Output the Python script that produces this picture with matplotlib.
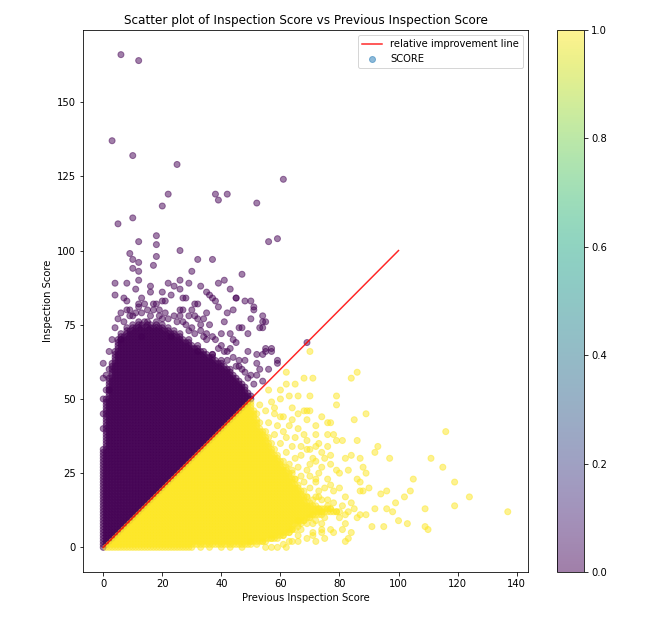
import matplotlib
matplotlib.use("Agg")
import matplotlib.pyplot as plt
from matplotlib.lines import Line2D

# scores are integers, so the dense parts of the cloud are every score pair
# inside an envelope

# top of the solid purple block (SCORE 0) for previous score 0..50
purple_top = [33, 50, 57, 62, 66, 70, 72, 71, 74, 73, 75, 74, 76, 75, 74, 76, 75,
              74, 76, 74, 75, 73, 74, 72, 73, 71, 72, 70, 69, 70, 68, 67, 68, 66,
              66, 65, 64, 65, 63, 62, 63, 61, 60, 60, 58, 57, 56, 55, 54, 52, 51]

# right edge of the solid yellow block (SCORE 1) for inspection score 0..49
yellow_right = [30, 49, 55, 58, 61, 63, 65, 64, 67, 68, 70, 74, 79, 77, 72, 69, 68,
                69, 66, 67, 65, 66, 64, 65, 63, 64, 62, 62, 60, 61, 59, 59, 57, 58,
                56, 57, 55, 56, 54, 55, 53, 52, 53, 52, 51, 52, 51, 50, 50, 50]

# single purple points outside the block (previous score, inspection score)
purple_points = [
    (6, 166), (12, 164), (3, 137), (10, 132), (25, 129), (61, 124), (22, 119),
    (38, 119), (42, 119), (39, 117), (52, 116), (20, 115), (10, 111), (5, 109),
    (18, 105), (12, 103), (18, 102), (56, 103), (59, 104), (26, 100), (9, 99),
    (18, 98), (32, 97), (37, 97), (10, 97), (12, 96), (17, 95), (10, 94), (12, 93),
    (30, 93), (47, 92), (41, 90), (39, 89), (26, 90), (4, 89), (8, 89), (12, 90),
    (16, 88), (11, 87), (4, 85), (35, 86), (45, 84), (48, 83), (50, 83), (51, 80),
    (54, 78), (55, 76), (53, 74), (47, 74), (41, 76), (2, 66), (0, 62), (55, 66),
    (57, 66), (59, 62), (69, 69), (54, 74), (55, 67), (57, 67), (54, 65), (59, 63),
    (8, 83), (12, 81), (9, 78), (15, 80), (18, 82), (21, 83), (23, 85), (27, 84),
    (32, 82), (37, 84), (39, 81), (31, 78), (34, 77), (27, 80), (54, 76), (45, 84),
    (51, 81), (43, 72), (40, 68), (45, 69), (37, 65), (42, 66), (48, 63), (46, 63),
    (52, 65), (56, 60), (52, 58), (49, 57), (54, 56), (2, 53), (6, 70), (20, 86),
    (26, 87), (28, 84), (12, 82), (20, 83), (26, 80), (31, 82), (38, 83), (36, 85),
    (32, 77), (27, 76), (19, 80), (17, 82), (8, 80), (7, 84), (13, 71), (23, 71),
    (29, 73), (35, 72), (32, 66), (49, 66), (0, 40), (0, 45), (0, 50), (0, 57),
    (1, 53), (1, 58), (2, 60), (3, 70), (4, 74), (5, 77), (6, 79), (7, 76),
    (9, 80), (10, 78), (11, 79), (13, 79), (14, 82), (16, 78), (17, 80), (19, 78),
    (21, 79), (22, 77), (24, 78), (25, 76), (26, 78), (28, 75), (29, 78), (30, 74),
    (31, 72), (33, 73), (34, 71), (35, 70), (36, 75), (38, 70), (39, 67), (40, 72),
    (41, 66), (43, 67), (44, 64), (46, 61), (47, 60), (48, 59), (50, 58), (51, 55),
    (53, 60), (52, 62), (44, 70), (46, 74), (49, 72), (50, 77), (42, 79), (44, 80),
    (35, 79), (30, 80), (13, 84), (16, 86), (24, 88), (22, 89), (29, 89), (33, 88),
    (43, 87), (14, 76), (20, 77), (33, 75), (37, 71), (42, 63), (45, 61)]

# single yellow points outside the block
yellow_points = [
    (70, 66), (86, 59), (84, 57), (68, 57), (71, 57), (62, 59), (62, 55), (63, 51),
    (66, 51), (70, 51), (79, 51), (79, 48), (89, 45), (85, 43), (77, 42), (116, 39),
    (86, 36), (81, 36), (93, 34), (92, 32), (97, 30), (111, 30), (115, 27), (87, 30),
    (83, 26), (88, 27), (89, 25), (105, 23), (119, 22), (90, 20), (87, 19), (96, 19),
    (94, 18), (104, 19), (102, 17), (124, 17), (99, 15), (119, 14), (109, 13),
    (137, 12), (96, 13), (92, 13), (98, 12), (100, 9), (103, 8), (109, 7), (110, 6),
    (95, 7), (91, 7), (89, 11), (87, 11), (85, 13), (84, 5), (82, 2), (83, 3),
    (78, 5), (81, 6), (82, 8), (83, 12), (69, 46), (60, 44), (68, 46), (76, 42),
    (66, 40), (72, 38), (76, 38), (79, 36), (69, 33), (73, 35), (77, 31), (79, 26),
    (72, 23), (68, 19), (78, 19), (73, 17), (76, 16), (79, 12), (69, 8), (74, 6),
    (71, 4), (77, 6), (64, 2), (66, 2), (55, 0), (57, 0), (50, 2), (60, 50),
    (64, 47), (58, 45), (70, 46), (61, 44), (69, 43), (61, 39), (78, 38), (69, 36),
    (76, 34), (74, 32), (70, 33), (67, 31), (82, 30), (84, 31), (77, 28), (74, 27),
    (80, 25), (86, 23), (70, 24), (72, 22), (76, 23), (77, 21), (87, 22), (88, 19),
    (73, 19), (71, 16), (74, 16), (80, 10), (71, 5), (74, 5), (71, 8), (74, 8),
    (66, 4), (63, 2), (66, 9), (33, 0), (36, 0), (40, 0), (43, 0), (47, 0),
    (50, 1), (52, 1), (54, 2), (57, 3), (59, 3), (61, 4), (63, 5), (64, 6),
    (66, 7), (67, 6), (68, 9), (70, 10), (71, 11), (72, 9), (73, 13), (75, 10),
    (76, 14), (78, 15), (70, 15), (72, 17), (69, 17), (67, 18), (70, 20), (66, 20),
    (68, 22), (65, 23), (67, 24), (69, 26), (64, 26), (66, 27), (63, 28), (70, 28),
    (65, 30), (62, 32), (64, 34), (67, 34), (60, 35), (62, 37), (65, 37), (58, 38),
    (59, 41), (63, 41), (56, 42), (58, 47), (55, 46), (57, 49), (53, 48), (56, 53),
    (60, 53), (65, 55), (66, 45), (72, 41), (74, 44), (75, 30), (72, 29), (80, 20),
    (82, 17), (81, 14), (84, 15), (86, 10), (75, 3), (72, 2), (69, 3), (61, 1),
    (59, 0), (62, 0), (80, 12), (82, 11), (77, 13), (73, 25), (71, 30), (75, 20),
    (74, 12), (68, 38), (64, 43), (72, 34)]

line_x = [0, 100]
line_y = [0, 100]

# build the point list: SCORE 0 = not improved, 1 = improved
prev, score, improved = [], [], []
for x, top in enumerate(purple_top):
    for y in range(x, top + 1):
        prev.append(x)
        score.append(y)
        improved.append(0)
for x, y in purple_points:
    prev.append(x)
    score.append(y)
    improved.append(0)
for y, right in enumerate(yellow_right):
    for x in range(y + 1, right + 1):
        prev.append(x)
        score.append(y)
        improved.append(1)
for x, y in yellow_points:
    prev.append(x)
    score.append(y)
    improved.append(1)

fig = plt.figure(figsize=(656 / 72, 623 / 72), dpi=72)
ax = fig.add_axes([83 / 656, 51 / 623, 445 / 656, 542 / 623])
cax = fig.add_axes([557 / 656, 51 / 623, 27 / 656, 542 / 623])

ax.plot(line_x, line_y, color='red', alpha=0.85, zorder=3)
sc = ax.scatter(prev, score, c=improved, cmap='viridis', alpha=0.5, s=36)

ax.set_title('Scatter plot of Inspection Score vs Previous Inspection Score')
ax.set_xlabel('Previous Inspection Score')
ax.set_ylabel('Inspection Score')

handles = [Line2D([], [], color='red', alpha=0.85),
           Line2D([], [], marker='o', linestyle='', color='#1f77b4', alpha=0.5, markersize=6)]
ax.legend(handles, ['relative improvement line', 'SCORE'], loc='upper right')

fig.colorbar(sc, cax=cax)

fig.savefig('out.png', dpi=72)
